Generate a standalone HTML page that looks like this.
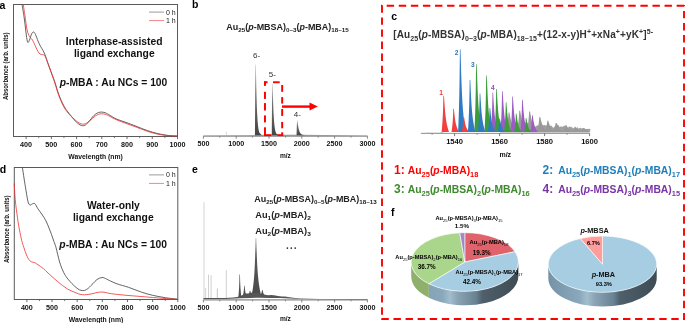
<!DOCTYPE html>
<html><head><meta charset="utf-8"><style>
html,body{margin:0;padding:0;background:#fff;width:685px;height:323px;overflow:hidden}
svg{display:block;will-change:transform}
text{font-family:"Liberation Sans", sans-serif;}
</style></head><body>
<svg width="685" height="323" viewBox="0 0 685 323">
<defs>
<linearGradient id="pkg" x1="0" y1="0" x2="0" y2="1"><stop offset="0" stop-color="#b0b0b0"/><stop offset="0.4" stop-color="#707070"/><stop offset="1" stop-color="#454545"/></linearGradient>
<linearGradient id="pkg2" x1="0" y1="0" x2="0" y2="1"><stop offset="0" stop-color="#999"/><stop offset="0.3" stop-color="#5a5a5a"/><stop offset="1" stop-color="#4a4a4a"/></linearGradient>
<linearGradient id="sideL" x1="411" y1="0" x2="519" y2="0" gradientUnits="userSpaceOnUse">
<stop offset="0" stop-color="#7e9db1"/><stop offset="0.29" stop-color="#8aa8bb"/><stop offset="0.36" stop-color="#a2bdcd"/><stop offset="0.43" stop-color="#8aa4b5"/><stop offset="0.60" stop-color="#6a8393"/><stop offset="0.66" stop-color="#4f606b"/><stop offset="1" stop-color="#3d4b53"/>
</linearGradient>
<linearGradient id="sideR" x1="548" y1="0" x2="657" y2="0" gradientUnits="userSpaceOnUse">
<stop offset="0" stop-color="#7592a6"/><stop offset="0.29" stop-color="#8aa8bb"/><stop offset="0.36" stop-color="#a2bdcd"/><stop offset="0.43" stop-color="#8aa4b5"/><stop offset="0.60" stop-color="#6a8393"/><stop offset="0.66" stop-color="#4f606b"/><stop offset="1" stop-color="#3d4b53"/>
</linearGradient>
</defs>
<text x="-0.5" y="8.6" font-size="10.5" font-weight="bold" text-anchor="start" fill="#000" >a</text>
<text x="192" y="8.2" font-size="10.5" font-weight="bold" text-anchor="start" fill="#000" >b</text>
<text x="391.3" y="19.8" font-size="10.5" font-weight="bold" text-anchor="start" fill="#000" >c</text>
<text x="-0.3" y="172.8" font-size="10.5" font-weight="bold" text-anchor="start" fill="#000" >d</text>
<text x="192" y="172.8" font-size="10.5" font-weight="bold" text-anchor="start" fill="#000" >e</text>
<text x="391" y="216.2" font-size="10.5" font-weight="bold" text-anchor="start" fill="#000" >f</text>
<rect x="13.5" y="4.5" width="164.0" height="132.0" fill="none" stroke="#5a5a5a" stroke-width="1"/>
<line x1="26.12" y1="136.5" x2="26.12" y2="139.1" stroke="#5a5a5a" stroke-width="0.9"/>
<text x="26.12" y="146.8" font-size="7.2" font-weight="bold" text-anchor="middle" fill="#111" >400</text>
<line x1="51.35" y1="136.5" x2="51.35" y2="139.1" stroke="#5a5a5a" stroke-width="0.9"/>
<text x="51.35" y="146.8" font-size="7.2" font-weight="bold" text-anchor="middle" fill="#111" >500</text>
<line x1="76.58" y1="136.5" x2="76.58" y2="139.1" stroke="#5a5a5a" stroke-width="0.9"/>
<text x="76.58" y="146.8" font-size="7.2" font-weight="bold" text-anchor="middle" fill="#111" >600</text>
<line x1="101.81" y1="136.5" x2="101.81" y2="139.1" stroke="#5a5a5a" stroke-width="0.9"/>
<text x="101.81" y="146.8" font-size="7.2" font-weight="bold" text-anchor="middle" fill="#111" >700</text>
<line x1="127.04" y1="136.5" x2="127.04" y2="139.1" stroke="#5a5a5a" stroke-width="0.9"/>
<text x="127.04" y="146.8" font-size="7.2" font-weight="bold" text-anchor="middle" fill="#111" >800</text>
<line x1="152.27" y1="136.5" x2="152.27" y2="139.1" stroke="#5a5a5a" stroke-width="0.9"/>
<text x="152.27" y="146.8" font-size="7.2" font-weight="bold" text-anchor="middle" fill="#111" >900</text>
<line x1="177.50" y1="136.5" x2="177.50" y2="139.1" stroke="#5a5a5a" stroke-width="0.9"/>
<text x="177.5" y="146.8" font-size="7.2" font-weight="bold" text-anchor="middle" fill="#111" >1000</text>
<line x1="38.73" y1="136.5" x2="38.73" y2="138.1" stroke="#5a5a5a" stroke-width="0.8"/>
<line x1="63.96" y1="136.5" x2="63.96" y2="138.1" stroke="#5a5a5a" stroke-width="0.8"/>
<line x1="89.19" y1="136.5" x2="89.19" y2="138.1" stroke="#5a5a5a" stroke-width="0.8"/>
<line x1="114.42" y1="136.5" x2="114.42" y2="138.1" stroke="#5a5a5a" stroke-width="0.8"/>
<line x1="139.65" y1="136.5" x2="139.65" y2="138.1" stroke="#5a5a5a" stroke-width="0.8"/>
<line x1="164.88" y1="136.5" x2="164.88" y2="138.1" stroke="#5a5a5a" stroke-width="0.8"/>
<path d="M22.00,4.00 C22.42,6.67 23.78,14.83 24.50,20.00 C25.22,25.17 25.77,31.28 26.30,35.00 C26.83,38.72 27.17,41.47 27.70,42.30 C28.23,43.13 28.85,41.38 29.50,40.00 C30.15,38.62 30.92,35.33 31.60,34.00 C32.28,32.67 32.95,31.92 33.60,32.00 C34.25,32.08 34.77,33.00 35.50,34.50 C36.23,36.00 37.17,39.03 38.00,41.00 C38.83,42.97 39.67,44.72 40.50,46.30 C41.33,47.88 42.17,48.88 43.00,50.50 C43.83,52.12 44.67,53.83 45.50,56.00 C46.33,58.17 46.92,60.45 48.00,63.50 C49.08,66.55 50.83,71.13 52.00,74.30 C53.17,77.47 53.87,79.12 55.00,82.50 C56.13,85.88 57.38,90.82 58.80,94.60 C60.22,98.38 62.13,102.50 63.50,105.20 C64.87,107.90 65.82,109.12 67.00,110.80 C68.18,112.48 69.27,113.63 70.60,115.30 C71.93,116.97 73.83,119.48 75.00,120.80 C76.17,122.12 76.77,122.52 77.60,123.20 C78.43,123.88 79.17,124.48 80.00,124.90 C80.83,125.32 81.68,125.68 82.60,125.70 C83.52,125.72 84.37,125.78 85.50,125.00 C86.63,124.22 88.23,122.33 89.40,121.00 C90.57,119.67 91.52,118.12 92.50,117.00 C93.48,115.88 94.30,115.05 95.30,114.30 C96.30,113.55 97.45,112.87 98.50,112.50 C99.55,112.13 100.52,112.07 101.60,112.10 C102.68,112.13 103.83,112.30 105.00,112.70 C106.17,113.10 106.75,113.47 108.60,114.50 C110.45,115.53 113.20,117.58 116.10,118.90 C119.00,120.22 122.68,121.18 126.00,122.40 C129.32,123.62 132.48,124.85 136.00,126.20 C139.52,127.55 143.60,129.30 147.10,130.50 C150.60,131.70 153.68,132.60 157.00,133.40 C160.32,134.20 163.67,134.87 167.00,135.30 C170.33,135.73 175.33,135.88 177.00,136.00" fill="none" stroke="#3c3c3c" stroke-width="0.8"/>
<path d="M23.20,4.00 C23.50,6.00 24.35,11.67 25.00,16.00 C25.65,20.33 26.35,26.58 27.10,30.00 C27.85,33.42 28.60,34.83 29.50,36.50 C30.40,38.17 31.45,38.25 32.50,40.00 C33.55,41.75 34.88,45.08 35.80,47.00 C36.72,48.92 37.30,50.33 38.00,51.50 C38.70,52.67 39.25,53.48 40.00,54.00 C40.75,54.52 41.73,54.35 42.50,54.60 C43.27,54.85 43.85,54.43 44.60,55.50 C45.35,56.57 45.77,57.78 47.00,61.00 C48.23,64.22 50.67,71.05 52.00,74.80 C53.33,78.55 53.87,80.03 55.00,83.50 C56.13,86.97 57.38,91.80 58.80,95.60 C60.22,99.40 62.13,103.63 63.50,106.30 C64.87,108.97 65.82,110.02 67.00,111.60 C68.18,113.18 69.27,114.43 70.60,115.80 C71.93,117.17 73.83,118.78 75.00,119.80 C76.17,120.82 76.77,121.30 77.60,121.90 C78.43,122.50 79.17,123.02 80.00,123.40 C80.83,123.78 81.68,124.15 82.60,124.20 C83.52,124.25 84.37,124.23 85.50,123.70 C86.63,123.17 88.23,121.90 89.40,121.00 C90.57,120.10 91.52,119.13 92.50,118.30 C93.48,117.47 94.30,116.67 95.30,116.00 C96.30,115.33 97.45,114.67 98.50,114.30 C99.55,113.93 100.52,113.82 101.60,113.80 C102.68,113.78 103.83,113.88 105.00,114.20 C106.17,114.52 106.75,114.80 108.60,115.70 C110.45,116.60 113.20,118.32 116.10,119.60 C119.00,120.88 122.68,122.17 126.00,123.40 C129.32,124.63 132.48,125.70 136.00,127.00 C139.52,128.30 143.60,130.03 147.10,131.20 C150.60,132.37 153.68,133.27 157.00,134.00 C160.32,134.73 163.67,135.27 167.00,135.60 C170.33,135.93 175.33,135.93 177.00,136.00" fill="none" stroke="#f03030" stroke-width="0.8"/>
<line x1="149" y1="12.1" x2="164" y2="12.1" stroke="#555" stroke-width="0.6"/>
<line x1="149" y1="20.6" x2="164" y2="20.6" stroke="#f03030" stroke-width="0.6"/>
<text x="166.0" y="14.6" font-size="7" font-weight="normal" text-anchor="start" fill="#222" >0 h</text>
<text x="166.0" y="23.1" font-size="7" font-weight="normal" text-anchor="start" fill="#222" >1 h</text>
<text x="95.5" y="158.8" font-size="6.8" font-weight="bold" text-anchor="middle" fill="#111" >Wavelength (nm)</text>
<text x="0" y="0" font-size="6.6" font-weight="bold" text-anchor="middle" fill="#111" transform="translate(8.0,66.2) rotate(-90) scale(0.915,1)">Absorbance (arb. units)</text>
<text x="114.2" y="44.8" font-size="10.3" font-weight="bold" text-anchor="middle" fill="#111" >Interphase-assisted</text>
<text x="114.3" y="56.8" font-size="10.3" font-weight="bold" text-anchor="middle" fill="#111" >ligand exchange</text>
<text x="113.5" y="86.0" font-size="10.3" font-weight="bold" text-anchor="middle" fill="#111" ><tspan font-style="italic">p</tspan><tspan>-MBA : Au NCs = 100</tspan></text>
<rect x="14.3" y="167.5" width="163.5" height="132.0" fill="none" stroke="#5a5a5a" stroke-width="1"/>
<line x1="26.88" y1="299.5" x2="26.88" y2="302.1" stroke="#5a5a5a" stroke-width="0.9"/>
<text x="26.88" y="309.8" font-size="7.2" font-weight="bold" text-anchor="middle" fill="#111" >400</text>
<line x1="52.03" y1="299.5" x2="52.03" y2="302.1" stroke="#5a5a5a" stroke-width="0.9"/>
<text x="52.03" y="309.8" font-size="7.2" font-weight="bold" text-anchor="middle" fill="#111" >500</text>
<line x1="77.18" y1="299.5" x2="77.18" y2="302.1" stroke="#5a5a5a" stroke-width="0.9"/>
<text x="77.18" y="309.8" font-size="7.2" font-weight="bold" text-anchor="middle" fill="#111" >600</text>
<line x1="102.34" y1="299.5" x2="102.34" y2="302.1" stroke="#5a5a5a" stroke-width="0.9"/>
<text x="102.34" y="309.8" font-size="7.2" font-weight="bold" text-anchor="middle" fill="#111" >700</text>
<line x1="127.49" y1="299.5" x2="127.49" y2="302.1" stroke="#5a5a5a" stroke-width="0.9"/>
<text x="127.49" y="309.8" font-size="7.2" font-weight="bold" text-anchor="middle" fill="#111" >800</text>
<line x1="152.65" y1="299.5" x2="152.65" y2="302.1" stroke="#5a5a5a" stroke-width="0.9"/>
<text x="152.65" y="309.8" font-size="7.2" font-weight="bold" text-anchor="middle" fill="#111" >900</text>
<line x1="177.80" y1="299.5" x2="177.80" y2="302.1" stroke="#5a5a5a" stroke-width="0.9"/>
<text x="177.8" y="309.8" font-size="7.2" font-weight="bold" text-anchor="middle" fill="#111" >1000</text>
<line x1="39.45" y1="299.5" x2="39.45" y2="301.1" stroke="#5a5a5a" stroke-width="0.8"/>
<line x1="64.61" y1="299.5" x2="64.61" y2="301.1" stroke="#5a5a5a" stroke-width="0.8"/>
<line x1="89.76" y1="299.5" x2="89.76" y2="301.1" stroke="#5a5a5a" stroke-width="0.8"/>
<line x1="114.92" y1="299.5" x2="114.92" y2="301.1" stroke="#5a5a5a" stroke-width="0.8"/>
<line x1="140.07" y1="299.5" x2="140.07" y2="301.1" stroke="#5a5a5a" stroke-width="0.8"/>
<line x1="165.22" y1="299.5" x2="165.22" y2="301.1" stroke="#5a5a5a" stroke-width="0.8"/>
<path d="M22.40,167.50 C22.67,169.25 23.50,174.78 24.00,178.00 C24.50,181.22 24.75,182.93 25.40,186.80 C26.05,190.67 27.15,198.17 27.90,201.20 C28.65,204.23 29.18,204.53 29.90,205.00 C30.62,205.47 31.38,204.23 32.20,204.00 C33.02,203.77 33.87,202.83 34.80,203.60 C35.73,204.37 36.77,207.03 37.80,208.60 C38.83,210.17 39.97,211.52 41.00,213.00 C42.03,214.48 43.08,216.00 44.00,217.50 C44.92,219.00 45.67,220.25 46.50,222.00 C47.33,223.75 48.17,225.92 49.00,228.00 C49.83,230.08 50.68,232.27 51.50,234.50 C52.32,236.73 53.15,239.23 53.90,241.40 C54.65,243.57 55.05,244.07 56.00,247.50 C56.95,250.93 58.43,258.08 59.60,262.00 C60.77,265.92 61.92,268.57 63.00,271.00 C64.08,273.43 64.93,274.85 66.10,276.60 C67.27,278.35 68.73,280.05 70.00,281.50 C71.27,282.95 72.37,284.05 73.70,285.30 C75.03,286.55 76.78,288.17 78.00,289.00 C79.22,289.83 79.92,290.05 81.00,290.30 C82.08,290.55 83.33,290.80 84.50,290.50 C85.67,290.20 86.92,289.33 88.00,288.50 C89.08,287.67 90.17,286.32 91.00,285.50 C91.83,284.68 92.00,284.60 93.00,283.60 C94.00,282.60 95.52,280.52 97.00,279.50 C98.48,278.48 100.48,277.67 101.90,277.50 C103.32,277.33 104.28,278.02 105.50,278.50 C106.72,278.98 107.25,279.50 109.20,280.40 C111.15,281.30 113.98,282.75 117.20,283.90 C120.42,285.05 124.47,285.93 128.50,287.30 C132.53,288.67 137.38,290.77 141.40,292.10 C145.42,293.43 148.58,294.37 152.60,295.30 C156.62,296.23 161.33,297.05 165.50,297.70 C169.67,298.35 175.58,298.95 177.60,299.20" fill="none" stroke="#3c3c3c" stroke-width="0.8"/>
<path d="M14.20,183.50 C14.32,185.42 14.65,191.55 14.90,195.00 C15.15,198.45 15.35,201.03 15.70,204.20 C16.05,207.37 16.62,211.12 17.00,214.00 C17.38,216.88 17.58,218.83 18.00,221.50 C18.42,224.17 18.88,226.83 19.50,230.00 C20.12,233.17 20.98,237.62 21.70,240.50 C22.42,243.38 23.00,244.88 23.80,247.30 C24.60,249.72 25.58,252.85 26.50,255.00 C27.42,257.15 28.38,259.03 29.30,260.20 C30.22,261.37 31.10,261.60 32.00,262.00 C32.90,262.40 33.70,262.13 34.70,262.60 C35.70,263.07 36.55,263.80 38.00,264.80 C39.45,265.80 41.73,267.23 43.40,268.60 C45.07,269.97 46.20,271.33 48.00,273.00 C49.80,274.67 52.20,276.85 54.20,278.60 C56.20,280.35 58.20,282.05 60.00,283.50 C61.80,284.95 63.33,286.17 65.00,287.30 C66.67,288.43 68.18,289.38 70.00,290.30 C71.82,291.22 74.23,292.13 75.90,292.80 C77.57,293.47 78.55,293.97 80.00,294.30 C81.45,294.63 83.10,294.80 84.60,294.80 C86.10,294.80 87.60,294.50 89.00,294.30 C90.40,294.10 91.67,293.90 93.00,293.60 C94.33,293.30 95.52,292.77 97.00,292.50 C98.48,292.23 100.40,291.98 101.90,292.00 C103.40,292.02 104.65,292.35 106.00,292.60 C107.35,292.85 108.13,293.20 110.00,293.50 C111.87,293.80 114.70,294.12 117.20,294.40 C119.70,294.68 122.32,294.95 125.00,295.20 C127.68,295.45 130.47,295.67 133.30,295.90 C136.13,296.13 138.78,296.33 142.00,296.60 C145.22,296.87 148.77,297.18 152.60,297.50 C156.43,297.82 160.83,298.20 165.00,298.50 C169.17,298.80 175.50,299.17 177.60,299.30" fill="none" stroke="#f03030" stroke-width="0.8"/>
<line x1="149" y1="174.9" x2="164" y2="174.9" stroke="#555" stroke-width="0.6"/>
<line x1="149" y1="183.4" x2="164" y2="183.4" stroke="#f03030" stroke-width="0.6"/>
<text x="166.0" y="177.4" font-size="7" font-weight="normal" text-anchor="start" fill="#222" >0 h</text>
<text x="166.0" y="185.9" font-size="7" font-weight="normal" text-anchor="start" fill="#222" >1 h</text>
<text x="96.1" y="321.8" font-size="6.8" font-weight="bold" text-anchor="middle" fill="#111" >Wavelength (nm)</text>
<text x="0" y="0" font-size="6.6" font-weight="bold" text-anchor="middle" fill="#111" transform="translate(8.8,229.2) rotate(-90) scale(0.915,1)">Absorbance (arb. units)</text>
<text x="113.4" y="209.0" font-size="10.3" font-weight="bold" text-anchor="middle" fill="#111" >Water-only</text>
<text x="113.3" y="221.2" font-size="10.3" font-weight="bold" text-anchor="middle" fill="#111" >ligand exchange</text>
<text x="113.2" y="247.6" font-size="10.3" font-weight="bold" text-anchor="middle" fill="#111" ><tspan font-style="italic">p</tspan><tspan>-MBA : Au NCs = 100</tspan></text>
<line x1="203.40" y1="136.2" x2="367.40" y2="136.2" stroke="#888" stroke-width="1.1"/>
<line x1="203.40" y1="136.2" x2="203.40" y2="138.7" stroke="#666" stroke-width="0.8"/>
<text x="203.4" y="146.39999999999998" font-size="7.2" font-weight="bold" text-anchor="middle" fill="#111" >500</text>
<line x1="236.20" y1="136.2" x2="236.20" y2="138.7" stroke="#666" stroke-width="0.8"/>
<text x="236.2" y="146.39999999999998" font-size="7.2" font-weight="bold" text-anchor="middle" fill="#111" >1000</text>
<line x1="269.00" y1="136.2" x2="269.00" y2="138.7" stroke="#666" stroke-width="0.8"/>
<text x="269.0" y="146.39999999999998" font-size="7.2" font-weight="bold" text-anchor="middle" fill="#111" >1500</text>
<line x1="301.80" y1="136.2" x2="301.80" y2="138.7" stroke="#666" stroke-width="0.8"/>
<text x="301.8" y="146.39999999999998" font-size="7.2" font-weight="bold" text-anchor="middle" fill="#111" >2000</text>
<line x1="334.60" y1="136.2" x2="334.60" y2="138.7" stroke="#666" stroke-width="0.8"/>
<text x="334.6" y="146.39999999999998" font-size="7.2" font-weight="bold" text-anchor="middle" fill="#111" >2500</text>
<line x1="367.40" y1="136.2" x2="367.40" y2="138.7" stroke="#666" stroke-width="0.8"/>
<text x="367.4" y="146.39999999999998" font-size="7.2" font-weight="bold" text-anchor="middle" fill="#111" >3000</text>
<line x1="219.80" y1="136.2" x2="219.80" y2="137.7" stroke="#666" stroke-width="0.7"/>
<line x1="252.60" y1="136.2" x2="252.60" y2="137.7" stroke="#666" stroke-width="0.7"/>
<line x1="285.40" y1="136.2" x2="285.40" y2="137.7" stroke="#666" stroke-width="0.7"/>
<line x1="318.20" y1="136.2" x2="318.20" y2="137.7" stroke="#666" stroke-width="0.7"/>
<line x1="351.00" y1="136.2" x2="351.00" y2="137.7" stroke="#666" stroke-width="0.7"/>
<text x="285.4" y="157.5" font-size="6.6" font-weight="bold" text-anchor="middle" fill="#111" >m/z</text>
<path d="M203.4,135.5 L250,135.3 L262,134.7 L300,134.8 L367.6,135.4 L367.6,136 L203.4,136 Z" fill="#999"/>
<line x1="226.4" y1="135.5" x2="226.4" y2="131.5" stroke="#bbb" stroke-width="0.5"/>
<path d="M254.95,135.20 L255.25,85.01 L255.50,63.50 L255.89,65.89 L255.93,68.28 L255.97,70.67 L256.01,73.06 L256.05,75.45 L256.09,77.84 L256.14,80.23 L256.19,82.62 L256.24,85.01 L256.29,87.40 L256.35,89.79 L256.41,92.18 L256.47,94.57 L256.54,96.96 L256.61,99.35 L256.68,101.74 L256.76,104.13 L256.85,106.52 L256.94,108.91 L257.05,111.30 L257.16,113.69 L257.29,116.08 L257.43,118.47 L257.60,120.86 L257.79,123.25 L258.03,125.64 L258.33,128.03 L258.75,130.42 L259.44,132.81 L261.68,135.20 L263.50,135.20 Z" fill="url(#pkg)"/>
<path d="M271.75,135.20 L272.05,99.01 L272.30,83.50 L272.69,85.22 L272.73,86.95 L272.77,88.67 L272.81,90.39 L272.85,92.12 L272.89,93.84 L272.94,95.56 L272.99,97.29 L273.04,99.01 L273.09,100.73 L273.15,102.46 L273.21,104.18 L273.27,105.90 L273.34,107.63 L273.41,109.35 L273.48,111.07 L273.56,112.80 L273.65,114.52 L273.74,116.24 L273.85,117.97 L273.96,119.69 L274.09,121.41 L274.23,123.14 L274.40,124.86 L274.59,126.58 L274.83,128.31 L275.13,130.03 L275.55,131.75 L276.24,133.48 L278.48,135.20 L280.30,135.20 Z" fill="url(#pkg)"/>
<path d="M296.55,135.30 L296.85,124.73 L297.10,120.20 L297.50,120.70 L297.55,121.21 L297.61,121.71 L297.66,122.21 L297.72,122.72 L297.78,123.22 L297.85,123.72 L297.91,124.23 L297.98,124.73 L298.05,125.23 L298.13,125.74 L298.21,126.24 L298.30,126.74 L298.39,127.25 L298.48,127.75 L298.58,128.25 L298.69,128.76 L298.81,129.26 L298.94,129.76 L299.08,130.27 L299.24,130.77 L299.41,131.27 L299.61,131.78 L299.83,132.28 L300.10,132.78 L300.42,133.29 L300.84,133.79 L301.41,134.29 L302.35,134.80 L305.10,135.30 L305.10,135.30 Z" fill="url(#pkg)"/>
<text x="0" y="0" transform="translate(226.3,29.9) scale(1.055,1)" font-size="8.5" font-weight="bold" text-anchor="start" fill="#222" ><tspan>Au</tspan><tspan baseline-shift="-2.38" font-size="5.95" font-weight="bold">25</tspan><tspan>(</tspan><tspan font-style="italic">p</tspan><tspan>-MBSA)</tspan><tspan baseline-shift="-2.38" font-size="5.95" font-weight="bold">0–3</tspan><tspan>(</tspan><tspan font-style="italic">p</tspan><tspan>-MBA)</tspan><tspan baseline-shift="-2.38" font-size="5.95" font-weight="bold">18–15</tspan></text>
<text x="256.5" y="58.0" font-size="8" font-weight="normal" text-anchor="middle" fill="#333" >6-</text>
<text x="272.4" y="77.2" font-size="8" font-weight="normal" text-anchor="middle" fill="#333" >5-</text>
<text x="297.4" y="116.6" font-size="8" font-weight="normal" text-anchor="middle" fill="#333" >4-</text>
<rect x="264.00" y="81.30" width="1.95" height="4.60" fill="#ff0000"/><rect x="264.00" y="91.80" width="1.95" height="7.10" fill="#ff0000"/><rect x="264.00" y="103.10" width="1.95" height="7.40" fill="#ff0000"/><rect x="264.00" y="115.40" width="1.95" height="7.00" fill="#ff0000"/><rect x="264.00" y="127.30" width="1.95" height="8.70" fill="#ff0000"/><rect x="281.20" y="85.00" width="1.95" height="6.80" fill="#ff0000"/><rect x="281.20" y="97.10" width="1.95" height="6.50" fill="#ff0000"/><rect x="281.20" y="109.00" width="1.95" height="6.90" fill="#ff0000"/><rect x="281.20" y="121.90" width="1.95" height="6.40" fill="#ff0000"/><rect x="281.20" y="132.30" width="1.95" height="3.70" fill="#ff0000"/><rect x="264.00" y="81.30" width="3.60" height="1.90" fill="#ff0000"/><rect x="273.00" y="81.30" width="6.70" height="1.90" fill="#ff0000"/><rect x="264.00" y="134.20" width="7.40" height="1.90" fill="#ff0000"/><rect x="277.40" y="134.20" width="5.75" height="1.90" fill="#ff0000"/>
<line x1="282" y1="106.6" x2="310" y2="106.6" stroke="#ff0000" stroke-width="2.4"/>
<path d="M309.5,102.6 L317.8,106.6 L309.5,110.6 Z" fill="#ff0000"/>
<line x1="203.40" y1="299.9" x2="367.40" y2="299.9" stroke="#888" stroke-width="1.1"/>
<line x1="203.40" y1="299.9" x2="203.40" y2="302.4" stroke="#666" stroke-width="0.8"/>
<text x="203.4" y="309.7" font-size="7.2" font-weight="bold" text-anchor="middle" fill="#111" >500</text>
<line x1="236.20" y1="299.9" x2="236.20" y2="302.4" stroke="#666" stroke-width="0.8"/>
<text x="236.2" y="309.7" font-size="7.2" font-weight="bold" text-anchor="middle" fill="#111" >1000</text>
<line x1="269.00" y1="299.9" x2="269.00" y2="302.4" stroke="#666" stroke-width="0.8"/>
<text x="269.0" y="309.7" font-size="7.2" font-weight="bold" text-anchor="middle" fill="#111" >1500</text>
<line x1="301.80" y1="299.9" x2="301.80" y2="302.4" stroke="#666" stroke-width="0.8"/>
<text x="301.8" y="309.7" font-size="7.2" font-weight="bold" text-anchor="middle" fill="#111" >2000</text>
<line x1="334.60" y1="299.9" x2="334.60" y2="302.4" stroke="#666" stroke-width="0.8"/>
<text x="334.6" y="309.7" font-size="7.2" font-weight="bold" text-anchor="middle" fill="#111" >2500</text>
<line x1="367.40" y1="299.9" x2="367.40" y2="302.4" stroke="#666" stroke-width="0.8"/>
<text x="367.4" y="309.7" font-size="7.2" font-weight="bold" text-anchor="middle" fill="#111" >3000</text>
<line x1="219.80" y1="299.9" x2="219.80" y2="301.4" stroke="#666" stroke-width="0.7"/>
<line x1="252.60" y1="299.9" x2="252.60" y2="301.4" stroke="#666" stroke-width="0.7"/>
<line x1="285.40" y1="299.9" x2="285.40" y2="301.4" stroke="#666" stroke-width="0.7"/>
<line x1="318.20" y1="299.9" x2="318.20" y2="301.4" stroke="#666" stroke-width="0.7"/>
<line x1="351.00" y1="299.9" x2="351.00" y2="301.4" stroke="#666" stroke-width="0.7"/>
<text x="285.4" y="320.8" font-size="6.6" font-weight="bold" text-anchor="middle" fill="#111" >m/z</text>
<line x1="204.0" y1="299" x2="204.0" y2="202.3" stroke="#c8c8c8" stroke-width="0.8"/>
<line x1="205.6" y1="299" x2="205.6" y2="288" stroke="#d0d0d0" stroke-width="0.9"/>
<line x1="208.5" y1="299" x2="208.5" y2="274.6" stroke="#c4c4c4" stroke-width="0.8"/>
<line x1="211.1" y1="299" x2="211.1" y2="275.2" stroke="#c4c4c4" stroke-width="0.8"/>
<line x1="217.4" y1="299" x2="217.4" y2="288.5" stroke="#cfcfcf" stroke-width="1.2"/>
<line x1="226.3" y1="299" x2="226.3" y2="270.2" stroke="#bdbdbd" stroke-width="0.7"/>
<path d="M203.4,298.1 L215,298.0 L225,297.9 L233,297.6 L237,297.0 L240,296.2 L243,294.8 L246,293.6 L249,293.4 L251.5,292.8 L253.5,291.8 L256,291.0 L258.5,292.0 L261,293.4 L264,294.6 L268,295.2 L271,295.0 L274,295.3 L278,296.0 L282,296.6 L285,296.5 L288,297.1 L293,297.8 L300,298.4 L320,298.9 L367.6,299.1 L367.6,299.4 L320,299.3 L300,299.0 L290,298.5 L280,298.1 L270,297.9 L260,297.8 L250,297.9 L240,298.2 L236,298.6 L225,298.9 L203.4,298.9 Z" fill="#555"/>
<path d="M238.26,297.50 L238.42,296.07 L238.57,294.64 L238.70,293.21 L238.81,291.77 L238.92,290.34 L239.01,288.91 L239.09,287.48 L239.15,286.05 L239.21,284.62 L239.27,283.19 L239.31,281.76 L239.35,280.33 L239.39,278.89 L239.42,277.46 L239.45,276.03 L239.47,274.60 L239.97,274.60 L240.01,276.03 L240.05,277.46 L240.08,278.89 L240.13,280.33 L240.18,281.76 L240.23,283.19 L240.29,284.62 L240.37,286.05 L240.45,287.48 L240.55,288.91 L240.66,290.34 L240.78,291.77 L240.92,293.21 L241.08,294.64 L241.26,296.07 L241.46,297.50 Z" fill="#505050"/>
<path d="M242.96,295.00 L243.11,294.43 L243.25,293.85 L243.37,293.27 L243.49,292.70 L243.58,292.12 L243.67,291.55 L243.75,290.98 L243.82,290.40 L243.88,289.82 L243.94,289.25 L243.99,288.68 L244.03,288.10 L244.07,287.53 L244.11,286.95 L244.14,286.38 L244.18,285.80 L244.68,285.80 L244.72,286.38 L244.76,286.95 L244.80,287.53 L244.85,288.10 L244.91,288.68 L244.97,289.25 L245.03,289.82 L245.11,290.40 L245.19,290.98 L245.29,291.55 L245.40,292.12 L245.52,292.70 L245.65,293.27 L245.81,293.85 L245.97,294.43 L246.16,295.00 Z" fill="#505050"/>
<path d="M260.68,295.00 L260.84,294.69 L260.98,294.38 L261.11,294.06 L261.22,293.75 L261.33,293.44 L261.43,293.12 L261.51,292.81 L261.59,292.50 L261.66,292.19 L261.73,291.88 L261.79,291.56 L261.84,291.25 L261.89,290.94 L261.94,290.62 L261.98,290.31 L262.03,290.00 L262.63,290.00 L262.69,290.31 L262.74,290.62 L262.80,290.94 L262.86,291.25 L262.93,291.56 L263.00,291.88 L263.08,292.19 L263.17,292.50 L263.26,292.81 L263.37,293.12 L263.49,293.44 L263.61,293.75 L263.76,294.06 L263.92,294.38 L264.09,294.69 L264.28,295.00 Z" fill="#505050"/>
<path d="M248.65,294.00 L248.79,293.80 L248.91,293.60 L249.03,293.40 L249.13,293.20 L249.22,293.00 L249.29,292.80 L249.36,292.60 L249.43,292.40 L249.48,292.20 L249.53,292.00 L249.57,291.80 L249.61,291.60 L249.64,291.40 L249.67,291.20 L249.70,291.00 L249.73,290.80 L250.33,290.80 L250.36,291.00 L250.40,291.20 L250.44,291.40 L250.48,291.60 L250.53,291.80 L250.58,292.00 L250.64,292.20 L250.70,292.40 L250.78,292.60 L250.86,292.80 L250.96,293.00 L251.07,293.20 L251.19,293.40 L251.33,293.60 L251.48,293.80 L251.65,294.00 Z" fill="#505050"/>
<path d="M252.12,293.00 L252.68,289.58 L253.16,286.16 L253.56,282.74 L253.90,279.32 L254.18,275.91 L254.41,272.49 L254.61,269.07 L254.78,265.65 L254.92,262.23 L255.05,258.81 L255.16,255.39 L255.26,251.98 L255.36,248.56 L255.45,245.14 L255.54,241.72 L255.63,238.30 L256.23,238.30 L256.34,241.72 L256.45,245.14 L256.56,248.56 L256.68,251.98 L256.80,255.39 L256.94,258.81 L257.09,262.23 L257.27,265.65 L257.47,269.07 L257.72,272.49 L258.01,275.91 L258.35,279.32 L258.76,282.74 L259.25,286.16 L259.83,289.58 L260.52,293.00 Z" fill="url(#pkg2)"/>
<text x="0" y="0" transform="translate(254.3,201.9) scale(1.055,1)" font-size="8.5" font-weight="bold" text-anchor="start" fill="#222" ><tspan>Au</tspan><tspan baseline-shift="-2.38" font-size="5.95" font-weight="bold">25</tspan><tspan>(</tspan><tspan font-style="italic">p</tspan><tspan>-MBSA)</tspan><tspan baseline-shift="-2.38" font-size="5.95" font-weight="bold">0–5</tspan><tspan>(</tspan><tspan font-style="italic">p</tspan><tspan>-MBA)</tspan><tspan baseline-shift="-2.38" font-size="5.95" font-weight="bold">18–13</tspan></text>
<text x="0" y="0" transform="translate(255.2,218.0) scale(1.09,1)" font-size="8.5" font-weight="bold" text-anchor="start" fill="#222" ><tspan>Au</tspan><tspan baseline-shift="-2.38" font-size="5.95" font-weight="bold">1</tspan><tspan>(</tspan><tspan font-style="italic">p</tspan><tspan>-MBA)</tspan><tspan baseline-shift="-2.38" font-size="5.95" font-weight="bold">2</tspan></text>
<text x="0" y="0" transform="translate(255.2,234.2) scale(1.09,1)" font-size="8.5" font-weight="bold" text-anchor="start" fill="#222" ><tspan>Au</tspan><tspan baseline-shift="-2.38" font-size="5.95" font-weight="bold">2</tspan><tspan>(</tspan><tspan font-style="italic">p</tspan><tspan>-MBA)</tspan><tspan baseline-shift="-2.38" font-size="5.95" font-weight="bold">3</tspan></text>
<g fill="#222"><circle cx="287.4" cy="248.1" r="0.85"/><circle cx="291.3" cy="248.1" r="0.85"/><circle cx="295.2" cy="248.1" r="0.85"/></g>
<g stroke="#ff0000" stroke-width="1.9" stroke-dasharray="7.4 4.68"><line x1="381" y1="5.8" x2="685" y2="5.8" stroke-dashoffset="6.38"/><line x1="684" y1="5" x2="684" y2="320" stroke-dashoffset="6.18"/><line x1="381" y1="319" x2="685" y2="319" stroke-dashoffset="11.68"/><line x1="382" y1="5" x2="382" y2="320" stroke-dashoffset="11.78"/></g>
<text x="393.3" y="37.8" font-size="10" font-weight="bold" text-anchor="start" fill="#333" letter-spacing="0.12"><tspan>[Au</tspan><tspan baseline-shift="-2.80" font-size="7.00" font-weight="bold">25</tspan><tspan>(</tspan><tspan font-style="italic">p</tspan><tspan>-MBSA)</tspan><tspan baseline-shift="-2.80" font-size="7.00" font-weight="bold">0~3</tspan><tspan>(</tspan><tspan font-style="italic">p</tspan><tspan>-MBA)</tspan><tspan baseline-shift="-2.80" font-size="7.00" font-weight="bold">18~15</tspan><tspan>+(12-x-y)H</tspan><tspan baseline-shift="3.80" font-size="7.00" font-weight="bold">+</tspan><tspan>+xNa</tspan><tspan baseline-shift="3.80" font-size="7.00" font-weight="bold">+</tspan><tspan>+yK</tspan><tspan baseline-shift="3.80" font-size="7.00" font-weight="bold">+</tspan><tspan>]</tspan><tspan baseline-shift="3.80" font-size="7.00" font-weight="bold">5-</tspan></text>
<line x1="420.9" y1="133.4" x2="589.6" y2="133.4" stroke="#777" stroke-width="0.8"/>
<line x1="454.60" y1="133.4" x2="454.60" y2="136.1" stroke="#555" stroke-width="0.8"/>
<text x="454.6" y="144.2" font-size="7.6" font-weight="bold" text-anchor="middle" fill="#111" >1540</text>
<line x1="499.60" y1="133.4" x2="499.60" y2="136.1" stroke="#555" stroke-width="0.8"/>
<text x="499.6" y="144.2" font-size="7.6" font-weight="bold" text-anchor="middle" fill="#111" >1560</text>
<line x1="544.60" y1="133.4" x2="544.60" y2="136.1" stroke="#555" stroke-width="0.8"/>
<text x="544.6" y="144.2" font-size="7.6" font-weight="bold" text-anchor="middle" fill="#111" >1580</text>
<line x1="589.60" y1="133.4" x2="589.60" y2="136.1" stroke="#555" stroke-width="0.8"/>
<text x="589.6" y="144.2" font-size="7.6" font-weight="bold" text-anchor="middle" fill="#111" >1600</text>
<line x1="432.10" y1="133.4" x2="432.10" y2="134.9" stroke="#666" stroke-width="0.7"/>
<line x1="477.10" y1="133.4" x2="477.10" y2="134.9" stroke="#666" stroke-width="0.7"/>
<line x1="522.10" y1="133.4" x2="522.10" y2="134.9" stroke="#666" stroke-width="0.7"/>
<line x1="567.10" y1="133.4" x2="567.10" y2="134.9" stroke="#666" stroke-width="0.7"/>
<text x="505.3" y="156.6" font-size="7" font-weight="bold" text-anchor="middle" fill="#111" >m/z</text>
<path d="M500.0,132.4 L500.8,121.6 L501.6,121.0 L502.4,120.8 L503.2,120.9 L504.0,122.1 L504.8,124.0 L505.6,123.3 L506.4,121.4 L507.2,121.2 L508.0,122.2 L508.8,123.8 L509.6,124.3 L510.4,123.9 L511.2,123.3 L512.0,123.6 L512.8,125.1 L513.6,125.2 L514.4,123.6 L515.2,121.7 L516.0,122.1 L516.8,123.3 L517.6,123.3 L518.4,123.6 L519.2,123.9 L520.0,125.0 L520.8,124.8 L521.6,123.3 L522.4,124.1 L523.2,124.0 L524.0,121.8 L524.8,121.9 L525.6,122.9 L526.4,122.5 L527.2,122.6 L528.0,123.6 L528.8,123.8 L529.6,122.7 L530.4,122.1 L531.2,121.8 L532.0,122.6 L532.8,124.4 L533.6,125.4 L534.4,126.0 L535.2,126.5 L536.0,126.4 L536.8,125.5 L537.6,125.2 L538.4,125.6 L539.2,125.1 L540.0,125.2 L540.8,125.1 L541.6,124.3 L542.4,124.8 L543.2,125.6 L544.0,125.1 L544.8,125.2 L545.6,125.5 L546.4,125.3 L547.2,125.6 L548.0,125.0 L548.8,125.0 L549.6,126.0 L550.4,125.7 L551.2,125.6 L552.0,126.3 L552.8,127.4 L553.6,127.8 L554.4,126.7 L555.2,125.7 L556.0,126.0 L556.8,125.5 L557.6,124.6 L558.4,125.1 L559.2,126.4 L560.0,126.9 L560.8,126.3 L561.6,126.4 L562.4,126.9 L563.2,126.3 L564.0,125.6 L564.8,126.3 L565.6,127.0 L566.4,127.0 L567.2,127.5 L568.0,127.7 L568.8,126.7 L569.6,126.6 L570.4,126.9 L571.2,126.8 L572.0,127.2 L572.8,127.9 L573.6,128.3 L574.4,128.6 L575.2,128.9 L576.0,128.5 L576.8,127.4 L577.6,127.3 L578.4,128.4 L579.2,128.6 L580.0,127.7 L580.8,127.9 L581.6,128.5 L582.4,128.7 L583.2,128.2 L584.0,128.0 L584.8,128.4 L585.6,129.0 L586.4,129.0 L587.2,128.7 L588.0,129.1 L588.8,128.9 L589.6,128.7 L590.4,129.1 L589.6,132.4 Z" fill="#a0a0a0"/>
<path d="M421,132.9 L440,132.6 L441,132.0 L445,132.6 L421,133.2 Z" fill="#999"/>
<path d="M505.85,131.90 L506.19,130.69 L506.50,129.47 L506.77,128.26 L507.02,127.05 L507.24,125.84 L507.43,124.62 L507.61,123.41 L507.76,122.20 L507.90,120.99 L508.02,119.78 L508.13,118.56 L508.23,117.35 L508.32,116.14 L508.40,114.92 L508.47,113.71 L508.55,112.50 L509.45,112.50 L509.67,113.71 L509.88,114.92 L510.10,116.14 L510.33,117.35 L510.57,118.56 L510.82,119.78 L511.11,120.99 L511.43,122.20 L511.80,123.41 L512.22,124.62 L512.73,125.84 L513.32,127.05 L514.02,128.26 L514.84,129.47 L515.81,130.69 L516.95,131.90 Z" fill="#999" fill-opacity="1"/>
<path d="M516.55,131.90 L516.89,130.58 L517.20,129.26 L517.47,127.94 L517.72,126.62 L517.94,125.31 L518.13,123.99 L518.31,122.67 L518.46,121.35 L518.60,120.03 L518.72,118.71 L518.83,117.39 L518.93,116.08 L519.02,114.76 L519.10,113.44 L519.17,112.12 L519.25,110.80 L520.15,110.80 L520.37,112.12 L520.58,113.44 L520.80,114.76 L521.03,116.08 L521.27,117.39 L521.52,118.71 L521.81,120.03 L522.13,121.35 L522.50,122.67 L522.92,123.99 L523.43,125.31 L524.02,126.62 L524.72,127.94 L525.54,129.26 L526.51,130.58 L527.65,131.90 Z" fill="#999" fill-opacity="1"/>
<path d="M526.45,131.90 L526.79,130.62 L527.10,129.34 L527.37,128.06 L527.62,126.78 L527.84,125.49 L528.03,124.21 L528.21,122.93 L528.36,121.65 L528.50,120.37 L528.62,119.09 L528.73,117.81 L528.83,116.53 L528.92,115.24 L529.00,113.96 L529.07,112.68 L529.15,111.40 L530.05,111.40 L530.27,112.68 L530.48,113.96 L530.70,115.24 L530.93,116.53 L531.17,117.81 L531.42,119.09 L531.71,120.37 L532.03,121.65 L532.40,122.93 L532.82,124.21 L533.33,125.49 L533.92,126.78 L534.62,128.06 L535.44,129.34 L536.41,130.62 L537.55,131.90 Z" fill="#999" fill-opacity="1"/>
<path d="M536.65,131.90 L536.99,130.97 L537.30,130.04 L537.57,129.11 L537.82,128.18 L538.04,127.24 L538.23,126.31 L538.41,125.38 L538.56,124.45 L538.70,123.52 L538.82,122.59 L538.93,121.66 L539.03,120.72 L539.12,119.79 L539.20,118.86 L539.27,117.93 L539.35,117.00 L540.25,117.00 L540.47,117.93 L540.68,118.86 L540.90,119.79 L541.13,120.72 L541.37,121.66 L541.62,122.59 L541.91,123.52 L542.23,124.45 L542.60,125.38 L543.02,126.31 L543.53,127.24 L544.12,128.18 L544.82,129.11 L545.64,130.04 L546.61,130.97 L547.75,131.90 Z" fill="#999" fill-opacity="1"/>
<path d="M544.65,131.90 L544.99,131.21 L545.30,130.51 L545.57,129.82 L545.82,129.12 L546.04,128.43 L546.23,127.74 L546.41,127.04 L546.56,126.35 L546.70,125.66 L546.82,124.96 L546.93,124.27 L547.03,123.58 L547.12,122.88 L547.20,122.19 L547.27,121.49 L547.35,120.80 L548.25,120.80 L548.47,121.49 L548.68,122.19 L548.90,122.88 L549.13,123.58 L549.37,124.27 L549.62,124.96 L549.91,125.66 L550.23,126.35 L550.60,127.04 L551.02,127.74 L551.53,128.43 L552.12,129.12 L552.82,129.82 L553.64,130.51 L554.61,131.21 L555.75,131.90 Z" fill="#999" fill-opacity="1"/>
<path d="M552.95,131.90 L553.29,131.34 L553.60,130.78 L553.87,130.21 L554.12,129.65 L554.34,129.09 L554.53,128.53 L554.71,127.96 L554.86,127.40 L555.00,126.84 L555.12,126.28 L555.23,125.71 L555.33,125.15 L555.42,124.59 L555.50,124.03 L555.57,123.46 L555.65,122.90 L556.55,122.90 L556.77,123.46 L556.98,124.03 L557.20,124.59 L557.43,125.15 L557.67,125.71 L557.92,126.28 L558.21,126.84 L558.53,127.40 L558.90,127.96 L559.32,128.53 L559.83,129.09 L560.42,129.65 L561.12,130.21 L561.94,130.78 L562.91,131.34 L564.05,131.90 Z" fill="#999" fill-opacity="1"/>
<path d="M562.75,131.90 L563.09,131.47 L563.40,131.04 L563.67,130.61 L563.92,130.18 L564.14,129.74 L564.33,129.31 L564.51,128.88 L564.66,128.45 L564.80,128.02 L564.92,127.59 L565.03,127.16 L565.13,126.72 L565.22,126.29 L565.30,125.86 L565.37,125.43 L565.45,125.00 L566.35,125.00 L566.57,125.43 L566.78,125.86 L567.00,126.29 L567.23,126.72 L567.47,127.16 L567.72,127.59 L568.01,128.02 L568.33,128.45 L568.70,128.88 L569.12,129.31 L569.63,129.74 L570.22,130.18 L570.92,130.61 L571.74,131.04 L572.71,131.47 L573.85,131.90 Z" fill="#999" fill-opacity="1"/>
<path d="M571.85,131.90 L572.19,131.58 L572.50,131.26 L572.77,130.94 L573.02,130.62 L573.24,130.31 L573.43,129.99 L573.61,129.67 L573.76,129.35 L573.90,129.03 L574.02,128.71 L574.13,128.39 L574.23,128.07 L574.32,127.76 L574.40,127.44 L574.47,127.12 L574.55,126.80 L575.45,126.80 L575.67,127.12 L575.88,127.44 L576.10,127.76 L576.33,128.07 L576.57,128.39 L576.82,128.71 L577.11,129.03 L577.43,129.35 L577.80,129.67 L578.22,129.99 L578.73,130.31 L579.32,130.62 L580.02,130.94 L580.84,131.26 L581.81,131.58 L582.95,131.90 Z" fill="#999" fill-opacity="1"/>
<path d="M579.85,131.90 L580.19,131.66 L580.50,131.41 L580.77,131.17 L581.02,130.93 L581.24,130.68 L581.43,130.44 L581.61,130.19 L581.76,129.95 L581.90,129.71 L582.02,129.46 L582.13,129.22 L582.23,128.97 L582.32,128.73 L582.40,128.49 L582.47,128.24 L582.55,128.00 L583.45,128.00 L583.67,128.24 L583.88,128.49 L584.10,128.73 L584.33,128.97 L584.57,129.22 L584.82,129.46 L585.11,129.71 L585.43,129.95 L585.80,130.19 L586.22,130.44 L586.73,130.68 L587.32,130.93 L588.02,131.17 L588.84,131.41 L589.81,131.66 L590.95,131.90 Z" fill="#999" fill-opacity="1"/>
<path d="M490.70,131.90 L490.93,129.44 L491.13,126.98 L491.31,124.51 L491.48,122.05 L491.63,119.59 L491.76,117.12 L491.87,114.66 L491.98,112.20 L492.07,109.74 L492.15,107.28 L492.22,104.81 L492.28,102.35 L492.34,99.89 L492.40,97.42 L492.45,94.96 L492.50,92.50 L493.10,92.50 L493.24,94.96 L493.39,97.42 L493.53,99.89 L493.69,102.35 L493.84,104.81 L494.02,107.28 L494.21,109.74 L494.42,112.20 L494.66,114.66 L494.95,117.12 L495.28,119.59 L495.68,122.05 L496.15,124.51 L496.70,126.98 L497.34,129.44 L498.10,131.90 Z" fill="#9d5cc4" fill-opacity="1"/>
<path d="M500.30,131.90 L500.53,129.36 L500.73,126.81 L500.91,124.27 L501.08,121.73 L501.23,119.18 L501.36,116.64 L501.47,114.09 L501.57,111.55 L501.67,109.01 L501.75,106.46 L501.82,103.92 L501.88,101.38 L501.94,98.83 L502.00,96.29 L502.05,93.74 L502.10,91.20 L502.70,91.20 L502.84,93.74 L502.99,96.29 L503.13,98.83 L503.29,101.38 L503.44,103.92 L503.62,106.46 L503.81,109.01 L504.02,111.55 L504.26,114.09 L504.55,116.64 L504.88,119.18 L505.28,121.73 L505.75,124.27 L506.30,126.81 L506.94,129.36 L507.70,131.90 Z" fill="#9d5cc4" fill-opacity="1"/>
<path d="M510.50,131.90 L510.73,129.68 L510.93,127.46 L511.11,125.24 L511.28,123.03 L511.43,120.81 L511.56,118.59 L511.67,116.37 L511.78,114.15 L511.87,111.93 L511.95,109.71 L512.02,107.49 L512.08,105.28 L512.14,103.06 L512.20,100.84 L512.25,98.62 L512.30,96.40 L512.90,96.40 L513.04,98.62 L513.19,100.84 L513.33,103.06 L513.49,105.28 L513.64,107.49 L513.82,109.71 L514.01,111.93 L514.22,114.15 L514.46,116.37 L514.75,118.59 L515.08,120.81 L515.48,123.03 L515.95,125.24 L516.50,127.46 L517.14,129.68 L517.90,131.90 Z" fill="#9d5cc4" fill-opacity="1"/>
<path d="M520.30,131.90 L520.53,129.89 L520.73,127.89 L520.91,125.88 L521.08,123.88 L521.23,121.87 L521.36,119.86 L521.47,117.86 L521.57,115.85 L521.67,113.84 L521.75,111.84 L521.82,109.83 L521.88,107.83 L521.94,105.82 L522.00,103.81 L522.05,101.81 L522.10,99.80 L522.70,99.80 L522.84,101.81 L522.99,103.81 L523.13,105.82 L523.29,107.83 L523.44,109.83 L523.62,111.84 L523.81,113.84 L524.02,115.85 L524.26,117.86 L524.55,119.86 L524.88,121.87 L525.28,123.88 L525.75,125.88 L526.30,127.89 L526.94,129.89 L527.70,131.90 Z" fill="#9d5cc4" fill-opacity="1"/>
<path d="M530.30,131.90 L530.53,130.86 L530.73,129.81 L530.91,128.77 L531.08,127.73 L531.23,126.68 L531.36,125.64 L531.47,124.59 L531.57,123.55 L531.67,122.51 L531.75,121.46 L531.82,120.42 L531.88,119.38 L531.94,118.33 L532.00,117.29 L532.05,116.24 L532.10,115.20 L532.70,115.20 L532.84,116.24 L532.99,117.29 L533.13,118.33 L533.29,119.38 L533.44,120.42 L533.62,121.46 L533.81,122.51 L534.02,123.55 L534.26,124.59 L534.55,125.64 L534.88,126.68 L535.28,127.73 L535.75,128.77 L536.30,129.81 L536.94,130.86 L537.70,131.90 Z" fill="#9d5cc4" fill-opacity="1"/>
<path d="M474.30,131.90 L474.53,127.68 L474.73,123.45 L474.91,119.22 L475.08,115.00 L475.23,110.78 L475.36,106.55 L475.47,102.33 L475.57,98.10 L475.67,93.88 L475.75,89.65 L475.82,85.42 L475.88,81.20 L475.94,76.97 L476.00,72.75 L476.05,68.52 L476.10,64.30 L476.70,64.30 L476.84,68.52 L476.99,72.75 L477.13,76.97 L477.29,81.20 L477.44,85.42 L477.62,89.65 L477.81,93.88 L478.02,98.10 L478.26,102.33 L478.55,106.55 L478.88,110.78 L479.28,115.00 L479.75,119.22 L480.30,123.45 L480.94,127.68 L481.70,131.90 Z" fill="#3c9c3c" fill-opacity="1"/>
<path d="M484.40,131.90 L484.63,128.38 L484.83,124.85 L485.01,121.33 L485.18,117.80 L485.33,114.28 L485.46,110.75 L485.57,107.22 L485.68,103.70 L485.77,100.18 L485.85,96.65 L485.92,93.12 L485.98,89.60 L486.04,86.08 L486.10,82.55 L486.15,79.03 L486.20,75.50 L486.80,75.50 L486.94,79.03 L487.09,82.55 L487.23,86.08 L487.39,89.60 L487.54,93.12 L487.72,96.65 L487.91,100.18 L488.12,103.70 L488.36,107.22 L488.65,110.75 L488.98,114.28 L489.38,117.80 L489.85,121.33 L490.40,124.85 L491.04,128.38 L491.80,131.90 Z" fill="#3c9c3c" fill-opacity="1"/>
<path d="M494.40,131.90 L494.63,129.22 L494.83,126.54 L495.01,123.86 L495.18,121.18 L495.33,118.49 L495.46,115.81 L495.57,113.13 L495.68,110.45 L495.77,107.77 L495.85,105.09 L495.92,102.41 L495.98,99.72 L496.04,97.04 L496.10,94.36 L496.15,91.68 L496.20,89.00 L496.80,89.00 L496.94,91.68 L497.09,94.36 L497.23,97.04 L497.39,99.72 L497.54,102.41 L497.72,105.09 L497.91,107.77 L498.12,110.45 L498.36,113.13 L498.65,115.81 L498.98,118.49 L499.38,121.18 L499.85,123.86 L500.40,126.54 L501.04,129.22 L501.80,131.90 Z" fill="#3c9c3c" fill-opacity="1"/>
<path d="M504.00,131.90 L504.23,130.05 L504.43,128.20 L504.61,126.35 L504.78,124.50 L504.93,122.65 L505.06,120.80 L505.17,118.95 L505.28,117.10 L505.37,115.25 L505.45,113.40 L505.52,111.55 L505.58,109.70 L505.64,107.85 L505.70,106.00 L505.75,104.15 L505.80,102.30 L506.40,102.30 L506.54,104.15 L506.69,106.00 L506.83,107.85 L506.99,109.70 L507.14,111.55 L507.32,113.40 L507.51,115.25 L507.72,117.10 L507.96,118.95 L508.25,120.80 L508.58,122.65 L508.98,124.50 L509.45,126.35 L510.00,128.20 L510.64,130.05 L511.40,131.90 Z" fill="#3c9c3c" fill-opacity="1"/>
<path d="M514.10,131.90 L514.33,130.75 L514.53,129.60 L514.71,128.45 L514.88,127.30 L515.03,126.15 L515.16,125.00 L515.27,123.85 L515.38,122.70 L515.47,121.55 L515.55,120.40 L515.62,119.25 L515.68,118.10 L515.74,116.95 L515.80,115.80 L515.85,114.65 L515.90,113.50 L516.50,113.50 L516.64,114.65 L516.79,115.80 L516.93,116.95 L517.09,118.10 L517.24,119.25 L517.42,120.40 L517.61,121.55 L517.82,122.70 L518.06,123.85 L518.35,125.00 L518.68,126.15 L519.08,127.30 L519.55,128.45 L520.10,129.60 L520.74,130.75 L521.50,131.90 Z" fill="#3c9c3c" fill-opacity="1"/>
<path d="M524.00,131.90 L524.23,131.03 L524.43,130.16 L524.61,129.29 L524.78,128.43 L524.93,127.56 L525.06,126.69 L525.17,125.82 L525.27,124.95 L525.37,124.08 L525.45,123.21 L525.52,122.34 L525.58,121.47 L525.64,120.61 L525.70,119.74 L525.75,118.87 L525.80,118.00 L526.40,118.00 L526.54,118.87 L526.69,119.74 L526.83,120.61 L526.99,121.47 L527.14,122.34 L527.32,123.21 L527.51,124.08 L527.72,124.95 L527.96,125.82 L528.25,126.69 L528.58,127.56 L528.98,128.43 L529.45,129.29 L530.00,130.16 L530.64,131.03 L531.40,131.90 Z" fill="#3c9c3c" fill-opacity="1"/>
<path d="M458.10,131.90 L458.33,126.74 L458.53,121.58 L458.71,116.41 L458.88,111.25 L459.03,106.09 L459.16,100.93 L459.27,95.76 L459.38,90.60 L459.47,85.44 L459.55,80.28 L459.62,75.11 L459.68,69.95 L459.74,64.79 L459.80,59.62 L459.85,54.46 L459.90,49.30 L460.50,49.30 L460.64,54.46 L460.79,59.62 L460.93,64.79 L461.09,69.95 L461.24,75.11 L461.42,80.28 L461.61,85.44 L461.82,90.60 L462.06,95.76 L462.35,100.93 L462.68,106.09 L463.08,111.25 L463.55,116.41 L464.10,121.58 L464.74,126.74 L465.50,131.90 Z" fill="#2e7bc4" fill-opacity="1"/>
<path d="M467.90,131.90 L468.13,128.66 L468.33,125.41 L468.51,122.17 L468.68,118.93 L468.83,115.68 L468.96,112.44 L469.07,109.19 L469.18,105.95 L469.27,102.71 L469.35,99.46 L469.42,96.22 L469.48,92.97 L469.54,89.73 L469.60,86.49 L469.65,83.24 L469.70,80.00 L470.30,80.00 L470.44,83.24 L470.59,86.49 L470.73,89.73 L470.89,92.97 L471.04,96.22 L471.22,99.46 L471.41,102.71 L471.62,105.95 L471.86,109.19 L472.15,112.44 L472.48,115.68 L472.88,118.93 L473.35,122.17 L473.90,125.41 L474.54,128.66 L475.30,131.90 Z" fill="#2e7bc4" fill-opacity="1"/>
<path d="M477.90,131.90 L478.13,129.50 L478.33,127.10 L478.51,124.70 L478.68,122.30 L478.83,119.90 L478.96,117.50 L479.07,115.10 L479.18,112.70 L479.27,110.30 L479.35,107.90 L479.42,105.50 L479.48,103.10 L479.54,100.70 L479.60,98.30 L479.65,95.90 L479.70,93.50 L480.30,93.50 L480.44,95.90 L480.59,98.30 L480.73,100.70 L480.89,103.10 L481.04,105.50 L481.22,107.90 L481.41,110.30 L481.62,112.70 L481.86,115.10 L482.15,117.50 L482.48,119.90 L482.88,122.30 L483.35,124.70 L483.90,127.10 L484.54,129.50 L485.30,131.90 Z" fill="#2e7bc4" fill-opacity="1"/>
<path d="M487.80,131.90 L488.03,130.41 L488.23,128.91 L488.41,127.42 L488.58,125.93 L488.73,124.43 L488.86,122.94 L488.97,121.44 L489.07,119.95 L489.17,118.46 L489.25,116.96 L489.32,115.47 L489.38,113.97 L489.44,112.48 L489.50,110.99 L489.55,109.49 L489.60,108.00 L490.20,108.00 L490.34,109.49 L490.49,110.99 L490.63,112.48 L490.79,113.97 L490.94,115.47 L491.12,116.96 L491.31,118.46 L491.52,119.95 L491.76,121.44 L492.05,122.94 L492.38,124.43 L492.78,125.93 L493.25,127.42 L493.80,128.91 L494.44,130.41 L495.20,131.90 Z" fill="#2e7bc4" fill-opacity="1"/>
<path d="M497.50,131.90 L497.73,131.06 L497.93,130.22 L498.11,129.39 L498.28,128.55 L498.43,127.71 L498.56,126.88 L498.67,126.04 L498.78,125.20 L498.87,124.36 L498.95,123.53 L499.02,122.69 L499.08,121.85 L499.14,121.01 L499.20,120.17 L499.25,119.34 L499.30,118.50 L499.90,118.50 L500.04,119.34 L500.19,120.17 L500.33,121.01 L500.49,121.85 L500.64,122.69 L500.82,123.53 L501.01,124.36 L501.22,125.20 L501.46,126.04 L501.75,126.88 L502.08,127.71 L502.48,128.55 L502.95,129.39 L503.50,130.22 L504.14,131.06 L504.90,131.90 Z" fill="#2e7bc4" fill-opacity="1"/>
<path d="M441.60,131.90 L441.83,129.64 L442.03,127.39 L442.21,125.13 L442.38,122.88 L442.53,120.62 L442.66,118.36 L442.77,116.11 L442.88,113.85 L442.97,111.59 L443.05,109.34 L443.12,107.08 L443.18,104.83 L443.24,102.57 L443.30,100.31 L443.35,98.06 L443.40,95.80 L444.00,95.80 L444.14,98.06 L444.29,100.31 L444.43,102.57 L444.59,104.83 L444.74,107.08 L444.92,109.34 L445.11,111.59 L445.32,113.85 L445.56,116.11 L445.85,118.36 L446.18,120.62 L446.58,122.88 L447.05,125.13 L447.60,127.39 L448.24,129.64 L449.00,131.90 Z" fill="#f2403f" fill-opacity="1"/>
<path d="M451.50,131.90 L451.73,130.46 L451.93,129.01 L452.11,127.57 L452.28,126.12 L452.43,124.68 L452.56,123.24 L452.67,121.79 L452.78,120.35 L452.87,118.91 L452.95,117.46 L453.02,116.02 L453.08,114.58 L453.14,113.13 L453.20,111.69 L453.25,110.24 L453.30,108.80 L453.90,108.80 L454.04,110.24 L454.19,111.69 L454.33,113.13 L454.49,114.58 L454.64,116.02 L454.82,117.46 L455.01,118.91 L455.22,120.35 L455.46,121.79 L455.75,123.24 L456.08,124.68 L456.48,126.12 L456.95,127.57 L457.50,129.01 L458.14,130.46 L458.90,131.90 Z" fill="#f2403f" fill-opacity="1"/>
<path d="M461.70,131.90 L461.93,130.98 L462.13,130.06 L462.31,129.14 L462.48,128.22 L462.63,127.31 L462.76,126.39 L462.87,125.47 L462.98,124.55 L463.07,123.63 L463.15,122.71 L463.22,121.79 L463.28,120.88 L463.34,119.96 L463.40,119.04 L463.45,118.12 L463.50,117.20 L464.10,117.20 L464.24,118.12 L464.39,119.04 L464.53,119.96 L464.69,120.88 L464.84,121.79 L465.02,122.71 L465.21,123.63 L465.42,124.55 L465.66,125.47 L465.95,126.39 L466.28,127.31 L466.68,128.22 L467.15,129.14 L467.70,130.06 L468.34,130.98 L469.10,131.90 Z" fill="#f2403f" fill-opacity="1"/>
<text x="441.0" y="94.7" font-size="6.6" font-weight="bold" text-anchor="middle" fill="#e33" >1</text>
<text x="456.7" y="55.0" font-size="6.6" font-weight="bold" text-anchor="middle" fill="#2e74b5" >2</text>
<text x="472.9" y="66.8" font-size="6.6" font-weight="bold" text-anchor="middle" fill="#2e74b5" >3</text>
<text x="492.9" y="89.8" font-size="6.6" font-weight="bold" text-anchor="middle" fill="#8e50b8" >4</text>
<text x="394.0" y="173.7" font-size="12" font-weight="bold" text-anchor="start" fill="#ff0000" >1:</text>
<text x="407.8" y="173.7" font-size="10.35" font-weight="bold" text-anchor="start" fill="#ff0000" ><tspan>Au</tspan><tspan baseline-shift="-2.90" font-size="7.45" font-weight="bold">25</tspan><tspan>(</tspan><tspan font-style="italic">p</tspan><tspan>-MBA)</tspan><tspan baseline-shift="-2.90" font-size="7.45" font-weight="bold">18</tspan></text>
<text x="542.6" y="173.7" font-size="12" font-weight="bold" text-anchor="start" fill="#1f7fb8" >2:</text>
<text x="558.2" y="173.7" font-size="10.35" font-weight="bold" text-anchor="start" fill="#1f7fb8" ><tspan>Au</tspan><tspan baseline-shift="-2.90" font-size="7.45" font-weight="bold">25</tspan><tspan>(</tspan><tspan font-style="italic">p</tspan><tspan>-MBSA)</tspan><tspan baseline-shift="-2.90" font-size="7.45" font-weight="bold">1</tspan><tspan>(</tspan><tspan font-style="italic">p</tspan><tspan>-MBA)</tspan><tspan baseline-shift="-2.90" font-size="7.45" font-weight="bold">17</tspan></text>
<text x="394.0" y="193.4" font-size="12" font-weight="bold" text-anchor="start" fill="#3f8a2f" >3:</text>
<text x="407.8" y="193.4" font-size="10.35" font-weight="bold" text-anchor="start" fill="#3f8a2f" ><tspan>Au</tspan><tspan baseline-shift="-2.90" font-size="7.45" font-weight="bold">25</tspan><tspan>(</tspan><tspan font-style="italic">p</tspan><tspan>-MBSA)</tspan><tspan baseline-shift="-2.90" font-size="7.45" font-weight="bold">2</tspan><tspan>(</tspan><tspan font-style="italic">p</tspan><tspan>-MBA)</tspan><tspan baseline-shift="-2.90" font-size="7.45" font-weight="bold">16</tspan></text>
<text x="542.6" y="193.4" font-size="12" font-weight="bold" text-anchor="start" fill="#7a35a5" >4:</text>
<text x="558.2" y="193.4" font-size="10.35" font-weight="bold" text-anchor="start" fill="#7a35a5" ><tspan>Au</tspan><tspan baseline-shift="-2.90" font-size="7.45" font-weight="bold">25</tspan><tspan>(</tspan><tspan font-style="italic">p</tspan><tspan>-MBSA)</tspan><tspan baseline-shift="-2.90" font-size="7.45" font-weight="bold">3</tspan><tspan>(</tspan><tspan font-style="italic">p</tspan><tspan>-MBA)</tspan><tspan baseline-shift="-2.90" font-size="7.45" font-weight="bold">15</tspan></text>
<path d="M518.40,262.00 A53.6,29.3 0 0 1 428.87,283.74 L428.87,297.74 A53.6,29.3 0 0 0 518.40,276.00 Z" fill="url(#sideL)"/><path d="M428.87,283.74 A53.6,29.3 0 0 1 411.20,262.00 L411.20,276.00 A53.6,29.3 0 0 0 428.87,297.74 Z" fill="#8fb06c"/><path d="M464.8,262.0 L464.80,232.70 A53.6,29.3 0 0 1 515.01,251.74 Z" fill="#e0636b" stroke="#fff" stroke-width="0.6" stroke-linejoin="round"/><path d="M464.8,262.0 L515.01,251.74 A53.6,29.3 0 0 1 428.87,283.74 Z" fill="#a7cde2" stroke="#fff" stroke-width="0.6" stroke-linejoin="round"/><path d="M464.8,262.0 L428.87,283.74 A53.6,29.3 0 0 1 459.76,232.83 Z" fill="#aad68b" stroke="#fff" stroke-width="0.6" stroke-linejoin="round"/><path d="M464.8,262.0 L459.76,232.83 A53.6,29.3 0 0 1 464.80,232.70 Z" fill="#a486c8" stroke="#fff" stroke-width="0.6" stroke-linejoin="round"/>
<path d="M656.70,264.20 A54.2,28.1 0 0 1 548.30,264.20 L548.30,278.50 A54.2,28.1 0 0 0 656.70,278.50 Z" fill="url(#sideR)"/><path d="M602.5,264.2 L602.50,236.10 A54.2,28.1 0 1 1 580.37,238.55 Z" fill="#a7cde2" stroke="#fff" stroke-width="0.6" stroke-linejoin="round"/><path d="M602.5,264.2 L580.37,238.55 A54.2,28.1 0 0 1 602.50,236.10 Z" fill="#ff9c9c" stroke="#fff" stroke-width="0.6" stroke-linejoin="round"/>
<text x="469.0" y="220.2" font-size="5.7" font-weight="bold" text-anchor="middle" fill="#000" ><tspan>Au</tspan><tspan baseline-shift="-1.60" font-size="4.10" font-weight="normal">25</tspan><tspan>(p-MBSA)</tspan><tspan baseline-shift="-1.60" font-size="4.10" font-weight="normal">3</tspan><tspan>(p-MBA)</tspan><tspan baseline-shift="-1.60" font-size="4.10" font-weight="normal">15</tspan></text>
<text x="461.9" y="227.9" font-size="6.2" font-weight="bold" text-anchor="middle" fill="#000" >1.5%</text>
<text x="469.6" y="244.1" font-size="5.7" font-weight="bold" text-anchor="start" fill="#000" ><tspan>Au</tspan><tspan baseline-shift="-1.60" font-size="4.10" font-weight="normal">25</tspan><tspan>(p-MBA)</tspan><tspan baseline-shift="-1.60" font-size="4.10" font-weight="normal">18</tspan></text>
<text x="481.8" y="254.5" font-size="6.3" font-weight="bold" text-anchor="middle" fill="#000" >19.3%</text>
<text x="395.3" y="258.9" font-size="5.7" font-weight="bold" text-anchor="start" fill="#000" ><tspan>Au</tspan><tspan baseline-shift="-1.60" font-size="4.10" font-weight="normal">25</tspan><tspan>(p-MBSA)</tspan><tspan baseline-shift="-1.60" font-size="4.10" font-weight="normal">2</tspan><tspan>(p-MBA)</tspan><tspan baseline-shift="-1.60" font-size="4.10" font-weight="normal">16</tspan></text>
<text x="426.7" y="268.9" font-size="6.3" font-weight="bold" text-anchor="middle" fill="#000" >36.7%</text>
<text x="455.6" y="273.6" font-size="5.7" font-weight="bold" text-anchor="start" fill="#000" ><tspan>Au</tspan><tspan baseline-shift="-1.60" font-size="4.10" font-weight="normal">25</tspan><tspan>(p-MBSA)</tspan><tspan baseline-shift="-1.60" font-size="4.10" font-weight="normal">1</tspan><tspan>(p-MBA)</tspan><tspan baseline-shift="-1.60" font-size="4.10" font-weight="normal">17</tspan></text>
<text x="472.0" y="284.1" font-size="6.3" font-weight="bold" text-anchor="middle" fill="#000" >42.4%</text>
<text x="594.6" y="233.3" font-size="7.3" font-weight="bold" text-anchor="middle" fill="#111" ><tspan font-style="italic">p</tspan><tspan>-MBSA</tspan></text>
<text x="593.4" y="244.5" font-size="5.7" font-weight="bold" text-anchor="middle" fill="#000" >6.7%</text>
<text x="603.4" y="276.9" font-size="7.3" font-weight="bold" text-anchor="middle" fill="#111" ><tspan font-style="italic">p</tspan><tspan>-MBA</tspan></text>
<text x="603.8" y="285.8" font-size="5.7" font-weight="bold" text-anchor="middle" fill="#000" >93.3%</text>
</svg>
</body></html>
